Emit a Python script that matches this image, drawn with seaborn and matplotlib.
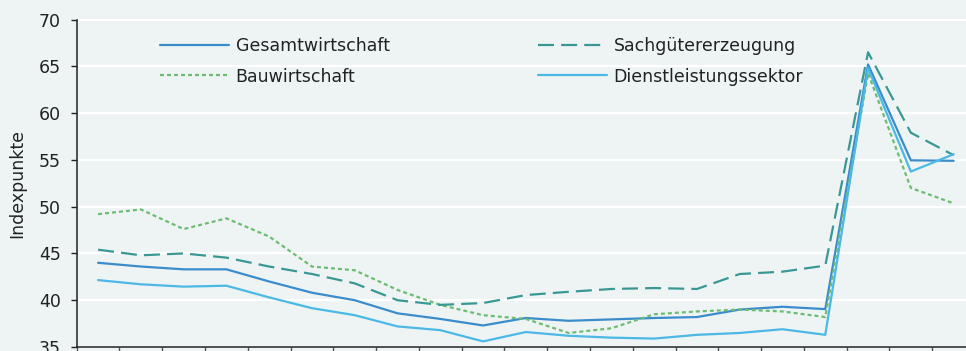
import matplotlib
matplotlib.use("Agg")
import matplotlib.pyplot as plt
import pandas as pd
import seaborn as sns

# ── data ─────────────────────────────────────────────────────────────────────
periods = list(range(1, 22))

gesamt = [44.0, 43.6, 43.3, 43.3, 42.0, 40.8, 40.0, 38.6, 38.0, 37.3, 38.1,
          37.8, 37.95, 38.1, 38.2, 39.0, 39.3, 39.05, 65.2, 54.95, 54.9]
sachgueter = [45.4, 44.8, 45.0, 44.55, 43.6, 42.8, 41.8, 40.0, 39.5, 39.7, 40.55,
              40.9, 41.2, 41.3, 41.2, 42.8, 43.05, 43.7, 66.5, 57.9, 55.5]
bau = [49.2, 49.7, 47.6, 48.75, 46.8, 43.6, 43.2, 41.1, 39.5, 38.4, 38.0,
       36.5, 37.0, 38.5, 38.8, 39.0, 38.8, 38.2, 64.25, 52.0, 50.35]
dienst = [42.15, 41.7, 41.45, 41.55, 40.3, 39.15, 38.4, 37.2, 36.8, 35.6, 36.6,
          36.2, 36.0, 35.9, 36.3, 36.5, 36.9, 36.3, 64.8, 53.75, 55.6]

y_ticks = [35, 40, 45, 50, 55, 60, 65, 70]

# ── styling ─────────────────────────────────────────────────────────────────
BG = "#eef4f4"
C_GES = "#3a8ccb"
C_SACH = "#3a9894"
C_BAU = "#6cbd72"
C_DIENST = "#4bb8e6"
TXT = "#222222"
FS = 12.5
LW = 1.6

sns.set_theme(style="white")
plt.rcParams["font.family"] = ["DejaVu Sans"]
plt.rcParams["axes.facecolor"] = BG
plt.rcParams["figure.facecolor"] = BG

W, H = 966, 351
fig = plt.figure(figsize=(W / 100, H / 100), dpi=100)
# axes extends slightly past the right/bottom edge, as in the cropped reference
x0, x1 = 76.7, 975.0
y_top, y_bot = 19.5, 347.0
ax = fig.add_axes([x0 / W, (H - y_bot) / H, (x1 - x0) / W, (y_bot - y_top) / H])

series = [
    ("Gesamtwirtschaft", gesamt, C_GES, None),
    ("Bauwirtschaft", bau, C_BAU, (0, (1.8, 1.35))),
    ("Sachgütererzeugung", sachgueter, C_SACH, (0, (7.2, 3.2))),
    ("Dienstleistungssektor", dienst, C_DIENST, None),
]

x_pos = [p - 1 for p in periods]
handles = {}
for name, vals, col, ls in series:
    df = pd.DataFrame({"x": x_pos, "y": vals})
    sns.lineplot(data=df, x="x", y="y", color=col, linewidth=LW, ax=ax,
                 label=name, legend=False)
    line = ax.lines[-1]
    if ls is not None:
        line.set_linestyle(ls)
    handles[name] = line

ax.set_xlim(-0.5, 20.5)
ax.set_ylim(35, 70)
ax.set_yticks(y_ticks)
ax.set_xticks([i - 0.5 for i in range(22)])
ax.set_xticklabels([])
ax.tick_params(axis="y", labelsize=FS, length=4, width=1, color=TXT,
               left=True, pad=7.5, labelcolor=TXT)
ax.tick_params(axis="x", length=5, width=1, color="#555555", bottom=True)
ax.grid(axis="y", color="white", linewidth=1.6)
ax.set_axisbelow(True)
for s in ("top", "right"):
    ax.spines[s].set_visible(False)
for s in ("left", "bottom"):
    ax.spines[s].set_color(TXT)
    ax.spines[s].set_linewidth(1.1)
ax.set_xlabel("")
ax.set_ylabel("Indexpunkte", fontsize=FS, color=TXT, labelpad=9)

leg_kw = dict(frameon=False, fontsize=FS, handlelength=3.95, handletextpad=0.4,
              labelspacing=0.72, borderaxespad=0, borderpad=0,
              bbox_transform=fig.transFigure)
leg1 = ax.legend([handles["Gesamtwirtschaft"], handles["Bauwirtschaft"]],
                 ["Gesamtwirtschaft", "Bauwirtschaft"], loc="upper left",
                 bbox_to_anchor=(160 / W, 1 - 37 / H), **leg_kw)
ax.add_artist(leg1)
ax.legend([handles["Sachgütererzeugung"], handles["Dienstleistungssektor"]],
          ["Sachgütererzeugung", "Dienstleistungssektor"], loc="upper left",
          bbox_to_anchor=(538 / W, 1 - 37 / H), **leg_kw)

for t in ax.get_legend().get_texts() + leg1.get_texts():
    t.set_color(TXT)

fig.savefig("out.png", dpi=100, facecolor=BG)
